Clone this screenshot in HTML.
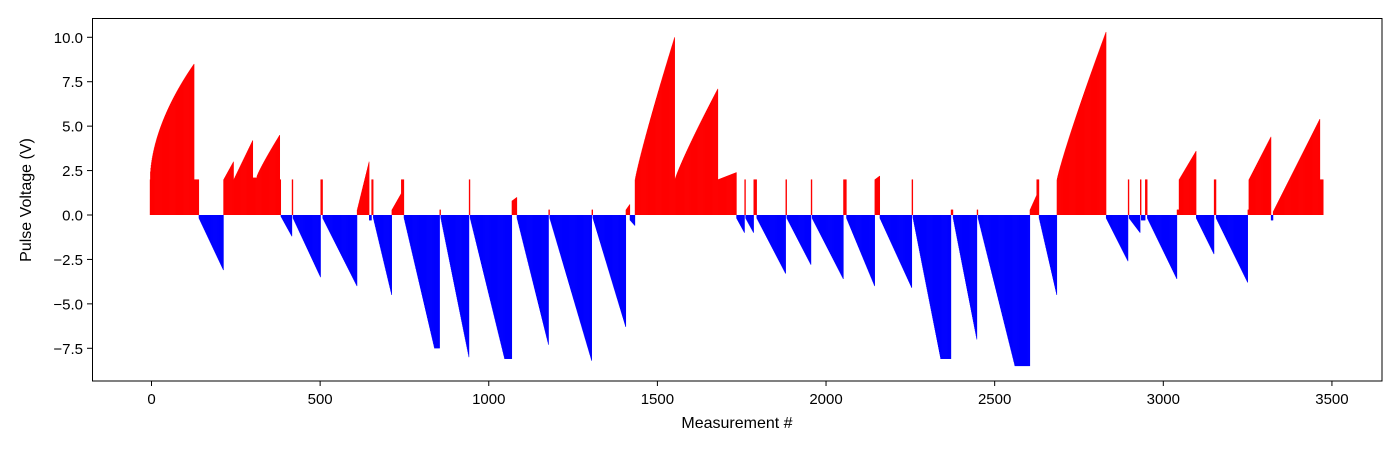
<!DOCTYPE html>
<html><head><meta charset="utf-8"><style>
html,body{margin:0;padding:0;background:#fff;}
svg{display:block;font-family:"Liberation Sans","DejaVu Sans",sans-serif;}
</style></head><body>
<svg id="chart" width="1400" height="450" viewBox="0 0 1400 450" xmlns="http://www.w3.org/2000/svg">
<rect x="0" y="0" width="1400" height="450" fill="#fff"/>
<g id="bars"></g>
<g id="axes"></g>
<rect x="92.5" y="18.5" width="1289.5" height="362.5" fill="none" stroke="#000" stroke-width="1"/>
<text x="737" y="428" font-size="16" text-anchor="middle">Measurement #</text>
<text x="0" y="0" font-size="16" text-anchor="middle" transform="translate(31,200) rotate(-90)">Pulse Voltage (V)</text>
</svg>
<script>
const segStart = [-4,127,141,214,244,301,313,381,384,417,420,502,508,610,646,653,658,713,741,749,840,855,858,942,945,1048,1069,1084,1178,1181,1306,1309,1407,1419,1434,1552,1680,1735,1759,1762,1786,1795,1881,1884,1956,1959,2052,2061,2145,2160,2255,2258,2341,2371,2377,2448,2451,2561,2605,2625,2632,2685,2831,2896,2899,2932,2935,2947,2953,3041,3047,3098,3151,3157,3251,3254,3320,3326,3465];
const segEnd   = [127,141,214,244,301,313,381,384,417,420,502,508,610,646,653,658,713,741,749,840,855,858,942,945,1048,1069,1084,1178,1181,1306,1309,1407,1419,1434,1552,1680,1735,1759,1762,1786,1795,1881,1884,1956,1959,2052,2061,2145,2160,2255,2258,2341,2371,2377,2448,2451,2561,2605,2625,2632,2685,2831,2896,2899,2932,2935,2947,2953,3041,3047,3098,3151,3157,3251,3254,3320,3326,3465,3475];
const segV0    = [2.0,2.0,-0.2,2.0,2.0,2.1,2.2,2.0,-0.1,2.0,-0.2,2.0,-0.2,0.3,-0.3,2.0,-0.2,0.3,2.0,-0.2,-7.5,0.3,-0.2,2.0,-0.2,-8.1,0.8,-0.2,0.3,-0.2,0.3,-0.2,0.3,-0.3,2.0,2.0,2.0,-0.2,2.0,-0.2,2.0,-0.2,2.0,-0.2,2.0,-0.2,2.0,-0.2,2.0,-0.2,2.0,-0.2,-8.1,0.3,-0.2,0.3,-0.2,-8.5,0.3,2.0,-0.2,2.0,-0.2,2.0,-0.2,2.0,-0.3,2.0,-0.2,0.3,2.0,-0.2,2.0,-0.2,0.3,2.0,-0.3,0.2,2.0];
const segV1    = [8.5,2.0,-3.1,3.0,4.2,2.1,4.5,2.0,-1.2,2.0,-3.5,2.0,-4.0,3.0,-0.3,2.0,-4.5,1.2,2.0,-7.5,-7.5,0.3,-8.0,2.0,-8.1,-8.1,1.0,-7.3,0.3,-8.2,0.3,-6.3,0.6,-0.6,10.0,7.1,2.4,-1.0,2.0,-1.0,2.0,-3.3,2.0,-2.8,2.0,-3.6,2.0,-4.0,2.2,-4.1,2.0,-8.1,-8.1,0.3,-7.0,0.3,-8.5,-8.5,1.1,2.0,-4.5,10.3,-2.6,2.0,-1.0,2.0,-0.3,2.0,-3.6,0.3,3.6,-2.2,2.0,-3.8,0.3,4.4,-0.3,5.4,2.0];
const segP     = [0.55,1,1,1,1,1,0.9,1,1,1,1,1,1,1,1,1,1,1,1,1,1,1,1,1,1,1,1,1,1,1,1,1,1,1,0.9,0.9,1,1,1,1,1,1,1,1,1,1,1,1,1,1,1,1,1,1,1,1,1,1,1,1,1,0.9,1,1,1,1,1,1,1,1,1,1,1,1,1,1,1,1,1];
const xTicks = [0,500,1000,1500,2000,2500,3000,3500];
const yTicks = [10.0,7.5,5.0,2.5,0.0,-2.5,-5.0,-7.5];
const yTickLabels = ["10.0","7.5","5.0","2.5","0.0","\u22122.5","\u22125.0","\u22127.5"];

const NS = "http://www.w3.org/2000/svg";
function xScale(m){ return 151.5 + m * (1011.8/3000); }
function yScale(v){ return 215 + (0 - v) * (311/17.5); }

const values = [];
const positions = [];
for (let s = 0; s < segStart.length; s++) {
  const a = segStart[s], b = segEnd[s];
  for (let i = a; i < b; i++) {
    const t = (b - a) > 1 ? (i - a) / (b - a - 1) : 0;
    values.push(segV0[s] + (segV1[s] - segV0[s]) * Math.pow(t, segP[s]));
    positions.push(i);
  }
}

const barsG = document.getElementById('bars');
const w = (xScale(1) - xScale(0)) + 0.35;
values.forEach((v, k) => {
  const r = document.createElementNS(NS, 'rect');
  const y0 = yScale(0), y1 = yScale(v);
  r.setAttribute('x', xScale(positions[k]) - w/2);
  r.setAttribute('y', Math.min(y0, y1));
  r.setAttribute('width', w);
  r.setAttribute('height', Math.max(Math.abs(y1 - y0), 0.6));
  r.setAttribute('fill', v >= 0 ? '#ff0000' : '#0000ff');
  
  
  barsG.appendChild(r);
});

const axesG = document.getElementById('axes');
xTicks.forEach(t => {
  const x = xScale(t);
  const l = document.createElementNS(NS, 'line');
  l.setAttribute('x1', x); l.setAttribute('x2', x);
  l.setAttribute('y1', 381); l.setAttribute('y2', 386);
  l.setAttribute('stroke', '#000');
  
  
  axesG.appendChild(l);
  const tx = document.createElementNS(NS, 'text');
  tx.setAttribute('x', x); tx.setAttribute('y', 404);
  tx.setAttribute('font-size', '15'); tx.setAttribute('text-anchor', 'middle');
  tx.textContent = String(t);
  
  
  axesG.appendChild(tx);
});
yTicks.forEach((t, i) => {
  const y = yScale(t);
  const l = document.createElementNS(NS, 'line');
  l.setAttribute('x1', 87); l.setAttribute('x2', 92.5);
  l.setAttribute('y1', y); l.setAttribute('y2', y);
  l.setAttribute('stroke', '#000');
  
  
  axesG.appendChild(l);
  const tx = document.createElementNS(NS, 'text');
  tx.setAttribute('x', 83); tx.setAttribute('y', y + 5.5);
  tx.setAttribute('font-size', '15'); tx.setAttribute('text-anchor', 'end');
  tx.textContent = yTickLabels[i];
  
  
  axesG.appendChild(tx);
});
</script>
</body></html>
